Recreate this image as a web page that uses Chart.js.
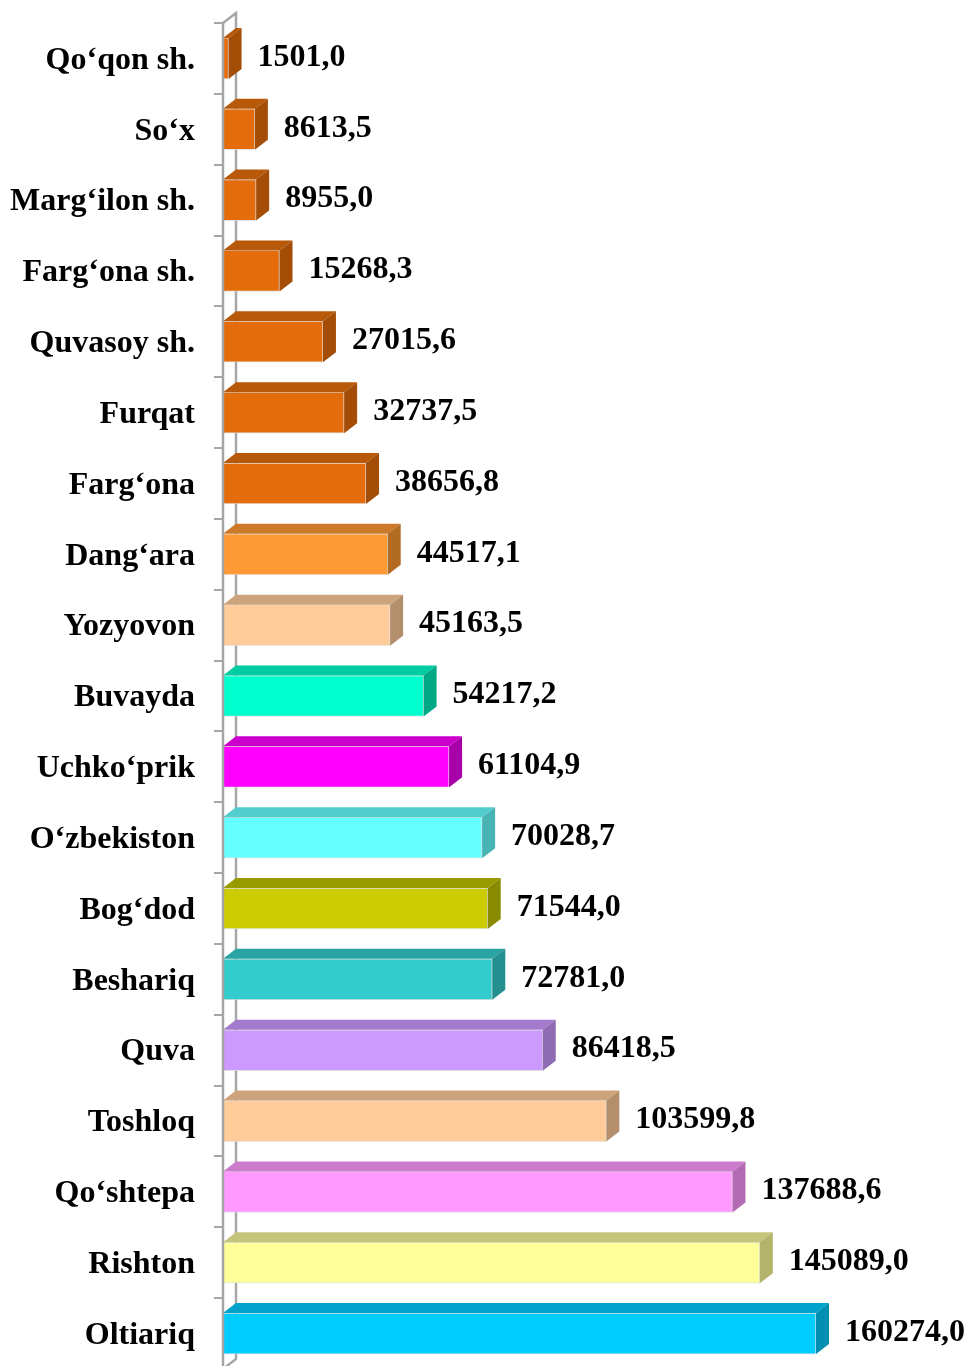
<!DOCTYPE html>
<html>
<head>
<meta charset="utf-8">
<script src="https://cdn.jsdelivr.net/npm/chart.js@4"></script>
<style>
    html, body { margin: 0; padding: 0; background: #fff; overflow: hidden; }
    #wrap { width: 968px; height: 1370px; position: relative; }
</style>
</head>
<body>
<div id="wrap"><canvas id="chart"></canvas></div>
<script>
const categories = ['Qo‘qon sh.', 'So‘x', 'Marg‘ilon sh.', 'Farg‘ona sh.', 'Quvasoy sh.', 'Furqat', 'Farg‘ona',
    'Dang‘ara', 'Yozyovon', 'Buvayda', 'Uchko‘prik', 'O‘zbekiston', 'Bog‘dod', 'Beshariq', 'Quva',
    'Toshloq', 'Qo‘shtepa', 'Rishton', 'Oltiariq'];
const values = [1501.0, 8613.5, 8955.0, 15268.3, 27015.6, 32737.5, 38656.8, 44517.1, 45163.5, 54217.2,
    61104.9, 70028.7, 71544.0, 72781.0, 86418.5, 103599.8, 137688.6, 145089.0, 160274.0];
const valueLabels = ['1501,0', '8613,5', '8955,0', '15268,3', '27015,6', '32737,5', '38656,8', '44517,1',
    '45163,5', '54217,2', '61104,9', '70028,7', '71544,0', '72781,0', '86418,5', '103599,8', '137688,6',
    '145089,0', '160274,0'];

// front / top / side colours for each bar
const frontColors = ['#E46C0A', '#E46C0A', '#E46C0A', '#E46C0A', '#E46C0A', '#E46C0A', '#E46C0A',
    '#FF9933', '#FFCC99', '#00FFCC', '#FF00FF', '#66FFFF', '#CCCC00', '#33CCCC', '#CC99FF',
    '#FFCC99', '#FF99FF', '#FFFF99', '#00CCFF'];
const topColors = ['#B85809', '#B85809', '#B85809', '#B85809', '#B85809', '#B85809', '#B85809',
    '#CC7A29', '#CCA37A', '#00CCA3', '#CC00CC', '#52CCCC', '#999900', '#29A3A3', '#A37ACC',
    '#CCA37A', '#CC7ACC', '#C4C47A', '#00A3CC'];
const sideColors = ['#A34D07', '#A34D07', '#A34D07', '#A34D07', '#A34D07', '#A34D07', '#A34D07',
    '#B36B24', '#B38F6B', '#00A886', '#A800A8', '#48B3B3', '#8A8A00', '#238F8F', '#8F6BB3',
    '#B38F6B', '#B36BB3', '#B3B36B', '#008FB3'];

const DX = 13, DY = 10;
const wallColor = '#A6A6A6';
const serif = '"Liberation Serif", "Times New Roman", serif';

const bar3d = {
    id: 'bar3d',
    beforeDatasetsDraw(chart) {
        const ctx = chart.ctx;
        const a = chart.chartArea;
        ctx.save();
        ctx.strokeStyle = wallColor;
        ctx.lineWidth = 2.5;
        ctx.beginPath();
        ctx.moveTo(a.left, a.top);
        ctx.lineTo(a.left + DX, a.top - DY);
        ctx.lineTo(a.left + DX, a.bottom - DY);
        ctx.lineTo(a.left, a.bottom);
        ctx.stroke();
        ctx.restore();
    },
    afterDatasetsDraw(chart) {
        const ctx = chart.ctx;
        const a = chart.chartArea;
        const meta = chart.getDatasetMeta(0);
        ctx.save();
        meta.data.forEach((bar, i) => {
            const top = bar.y - bar.height / 2;
            const bottom = bar.y + bar.height / 2;
            const x0 = bar.base, x1 = bar.x;
            // top face
            ctx.fillStyle = topColors[i];
            ctx.beginPath();
            ctx.moveTo(x0, top);
            ctx.lineTo(x0 + DX, top - DY);
            ctx.lineTo(x1 + DX, top - DY);
            ctx.lineTo(x1, top);
            ctx.closePath();
            ctx.fill();
            // side face
            ctx.fillStyle = sideColors[i];
            ctx.beginPath();
            ctx.moveTo(x1, top);
            ctx.lineTo(x1 + DX, top - DY);
            ctx.lineTo(x1 + DX, bottom - DY);
            ctx.lineTo(x1, bottom);
            ctx.closePath();
            ctx.fill();
            // value label
            ctx.fillStyle = '#000';
            ctx.font = 'bold 32px ' + serif;
            ctx.textAlign = 'left';
            ctx.textBaseline = 'middle';
            ctx.fillText(valueLabels[i], x1 + DX + 16, bar.y - 1);
        });
        // front wall line
        ctx.strokeStyle = wallColor;
        ctx.lineWidth = 2.5;
        ctx.beginPath();
        ctx.moveTo(a.left, a.top);
        ctx.lineTo(a.left, a.bottom);
        ctx.stroke();
        ctx.restore();
    }
};

new Chart(document.getElementById('chart'), {
    type: 'bar',
    data: {
        labels: categories,
        datasets: [{
            data: values,
            backgroundColor: frontColors,
            borderColor: 'rgba(220,220,220,0.8)',
            borderWidth: 1,
            borderSkipped: 'start',
            barThickness: 41
        }]
    },
    options: {
        indexAxis: 'y',
        responsive: true,
        maintainAspectRatio: false,
        animation: false,
        layout: { padding: { top: 23, right: 79, bottom: 1, left: 0 } },
        plugins: { legend: { display: false }, tooltip: { enabled: false } },
        scales: {
            x: {
                display: false,
                min: 0,
                max: 180000
            },
            y: {
                afterFit(scale) {
                    scale.width = 223;
                    scale.paddingTop = 0;
                    scale.paddingBottom = 0;
                },
                border: { display: false },
                grid: {
                    drawOnChartArea: false,
                    drawTicks: true,
                    tickLength: 9,
                    color: wallColor,
                    lineWidth: 2
                },
                ticks: {
                    padding: 19,
                    labelOffset: 2,
                    color: '#000',
                    font: { family: serif, size: 32, weight: 'bold' }
                }
            }
        }
    },
    plugins: [bar3d]
});
</script>
</body>
</html>
